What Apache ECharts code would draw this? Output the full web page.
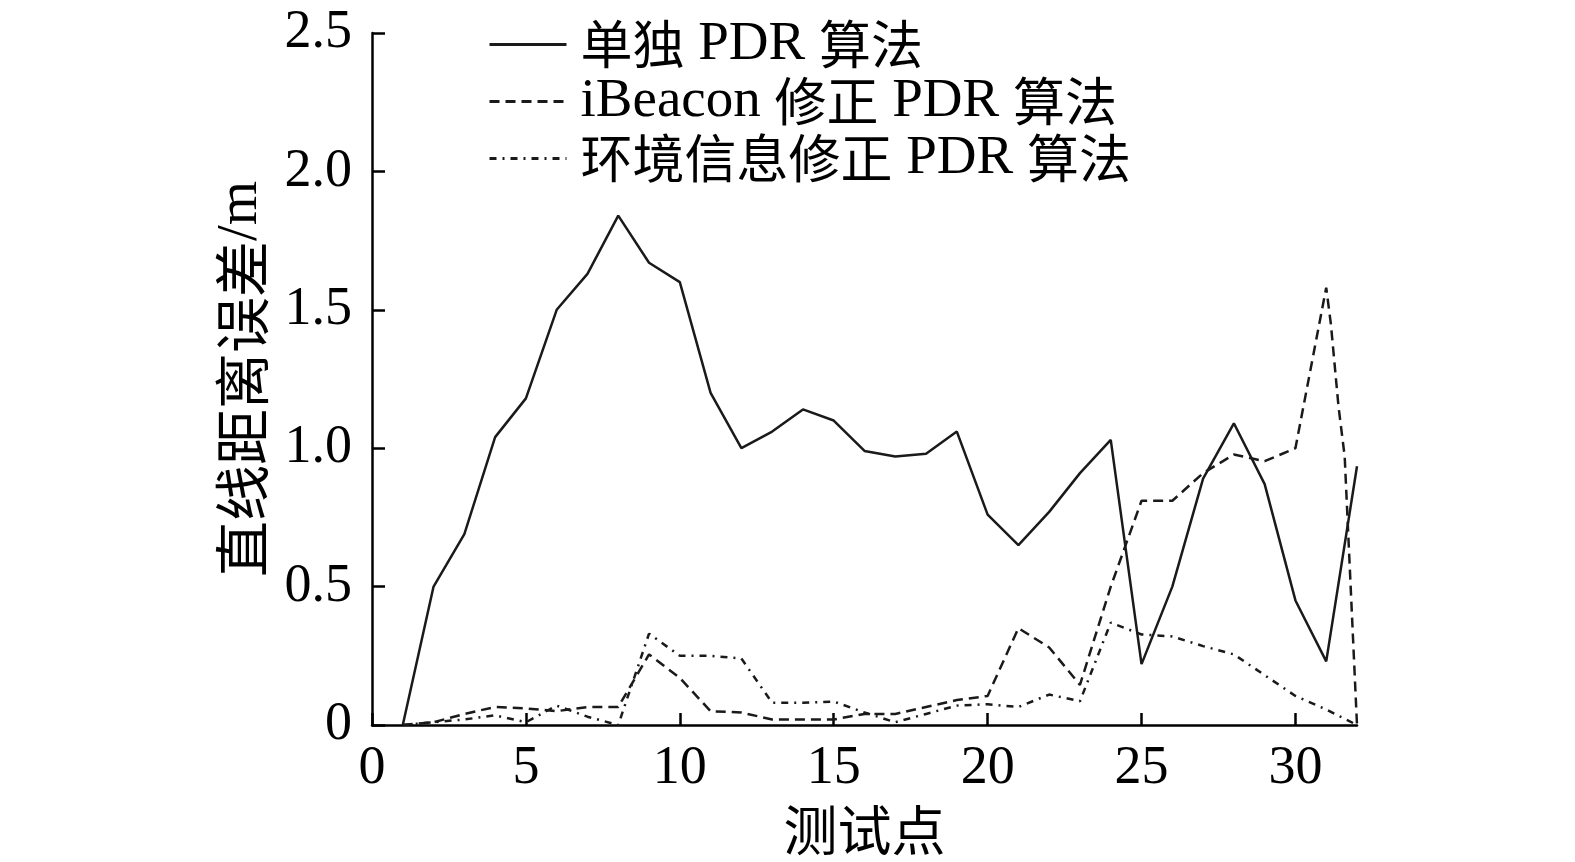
<!DOCTYPE html>
<html>
<head>
<meta charset="utf-8">
<script src="https://cdn.jsdelivr.net/npm/echarts@6/dist/echarts.min.js"></script>
<style>
  html, body { margin: 0; padding: 0; background: #fff; }
  #main { width: 1575px; height: 862px; }
</style>
</head>
<body>
<div id="main"></div>
<script>
// 测试点编号
var testPoints = [1, 2, 3, 4, 5, 6, 7, 8, 9, 10, 11, 12, 13, 14, 15, 16,
                  17, 18, 19, 20, 21, 22, 23, 24, 25, 26, 27, 28, 29, 30, 31, 32];
// 单独 PDR 算法
var soloPdr = [0, 0.50, 0.69, 1.04, 1.18, 1.50, 1.63, 1.84, 1.67, 1.60, 1.20, 1.00, 1.06, 1.14, 1.10, 0.99,
               0.97, 0.98, 1.06, 0.76, 0.65, 0.77, 0.91, 1.03, 0.22, 0.50, 0.89, 1.09, 0.87, 0.45, 0.23, 0.935];
// iBeacon 修正 PDR 算法（末段有非整数点）
var ibeaconX = [1, 2, 3, 4, 5, 6, 7, 8, 9, 10, 11, 12, 13, 14, 15, 16,
                17, 18, 19, 20, 21, 22, 23, 24, 25, 26, 27, 28, 29, 30, 31, 31.15, 31.4, 31.6, 32];
var ibeaconY = [0, 0.01, 0.04, 0.065, 0.06, 0.05, 0.065, 0.065, 0.255, 0.17, 0.05, 0.045, 0.02, 0.02, 0.02, 0.04,
                0.04, 0.065, 0.09, 0.105, 0.35, 0.28, 0.145, 0.50, 0.81, 0.81, 0.91, 0.977, 0.953, 1.00, 1.58, 1.45, 1.15, 0.97, 0];
// 环境信息修正 PDR 算法
var envInfo = [0, 0.01, 0.02, 0.035, 0.01, 0.07, 0.03, 0.0, 0.33, 0.25, 0.25, 0.24, 0.08, 0.08, 0.085, 0.045,
               0.01, 0.04, 0.07, 0.075, 0.065, 0.11, 0.086, 0.37, 0.327, 0.32, 0.285, 0.255, 0.18, 0.105, 0.056, 0];

var seriesNames = ['单独 PDR 算法', 'iBeacon 修正 PDR 算法', '环境信息修正 PDR 算法'];
var xTicks = [0, 5, 10, 15, 20, 25, 30];
var yTicks = [0, 0.5, 1.0, 1.5, 2.0, 2.5];
var yTickLabels = ['0', '0.5', '1.0', '1.5', '2.0', '2.5'];

function pairs(xs, ys) {
  var out = [];
  for (var i = 0; i < xs.length; i++) out.push([xs[i], ys[i]]);
  return out;
}

// 中文部分用 {c|...} 包起来
function cjkRich(s) {
  return s.replace(/([\u4e00-\u9fff]+)/g, '{c|$1}');
}

var latin = '"Liberation Serif", "Times New Roman", serif';
var cjk = '"Noto Sans CJK SC", sans-serif';
var chart = echarts.init(document.getElementById('main'));

var option = {
  animation: false,
  backgroundColor: '#fff',
  grid: { left: 372, top: 33, right: 218, bottom: 137 },
  legend: {
    orient: 'vertical',
    left: 483,
    top: 12,
    itemWidth: 77,
    itemHeight: 14,
    itemGap: 2,
    itemStyle: { opacity: 0, borderWidth: 0 },
    lineStyle: { width: 3 },
    formatter: function (name) { return cjkRich(name); },
    textStyle: {
      fontFamily: latin, fontSize: 55, color: '#000', lineHeight: 50, padding: [0, 0, 0, 9],
      rich: { c: { fontFamily: cjk, fontSize: 52, color: '#000', lineHeight: 50 } }
    },
    data: seriesNames
  },
  xAxis: {
    type: 'value',
    min: 0,
    max: 32,
    interval: 5,
    name: '测试点',
    nameLocation: 'middle',
    nameGap: 78,
    nameTextStyle: { fontFamily: cjk, fontSize: 54, color: '#000' },
    axisLine: { lineStyle: { color: '#000', width: 2.5 } },
    axisTick: { inside: true, length: 12, customValues: xTicks, lineStyle: { color: '#000', width: 2.5 } },
    axisLabel: { customValues: xTicks, margin: 17, fontFamily: latin, fontSize: 54, color: '#000' },
    splitLine: { show: false }
  },
  yAxis: {
    type: 'value',
    min: 0,
    max: 2.5,
    interval: 0.5,
    name: '{c|直线距离误差}/m',
    nameLocation: 'middle',
    nameGap: 102,
    nameTextStyle: {
      fontFamily: latin, fontSize: 57, color: '#000',
      rich: { c: { fontFamily: cjk, fontSize: 56, color: '#000' } }
    },
    axisLine: { show: true, lineStyle: { color: '#000', width: 2.5 } },
    axisTick: { show: true, inside: true, length: 13, lineStyle: { color: '#000', width: 2.5 } },
    axisLabel: {
      margin: 20, fontFamily: latin, fontSize: 54, color: '#000',
      formatter: function (v) {
        var i = yTicks.indexOf(v);
        return i >= 0 ? yTickLabels[i] : '';
      }
    },
    splitLine: { show: false }
  },
  series: [{
    name: seriesNames[0],
    type: 'line',
    symbol: 'none',
    lineStyle: { color: '#1a1a1a', width: 2.5, type: 'solid' },
    itemStyle: { color: '#1a1a1a' },
    data: pairs(testPoints, soloPdr)
  }, {
    name: seriesNames[1],
    type: 'line',
    symbol: 'none',
    lineStyle: { color: '#1a1a1a', width: 2.5, type: [10, 6] },
    itemStyle: { color: '#1a1a1a' },
    data: pairs(ibeaconX, ibeaconY)
  }, {
    name: seriesNames[2],
    type: 'line',
    symbol: 'none',
    lineStyle: { color: '#1a1a1a', width: 2.5, type: [7, 6, 2, 6] },
    itemStyle: { color: '#1a1a1a' },
    data: pairs(testPoints, envInfo)
  }]
};

chart.setOption(option);
</script>
</body>
</html>
